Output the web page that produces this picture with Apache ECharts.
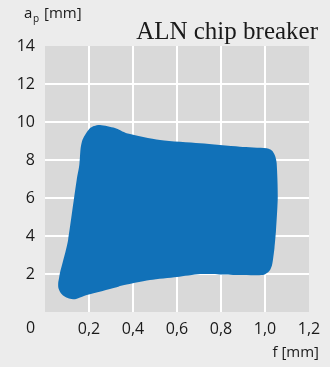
<!DOCTYPE html>
<html>
<head>
<meta charset="utf-8">
<script src="https://cdn.jsdelivr.net/npm/echarts@6/dist/echarts.min.js"></script>
<style>
html,body{margin:0;padding:0;background:#ececec;}
#c{width:330px;height:367px;}
</style>
</head>
<body>
<div id="c"></div>
<script>
// Outline of the application area (f [mm], ap [mm]), clockwise from the top
var outlineF = [0.223, 0.25, 0.318, 0.371, 0.523, 0.705, 0.886, 1.008, 1.025, 1.036, 1.046, 1.053, 1.058, 1.05, 1.043, 1.038, 1.032, 1.023, 1.009, 0.991, 0.886, 0.80, 0.705, 0.60, 0.477, 0.341, 0.326, 0.19, 0.159, 0.136, 0.109, 0.086, 0.07, 0.061, 0.06, 0.064, 0.068, 0.095, 0.105, 0.144, 0.156, 0.162, 0.17, 0.182, 0.205];
var outlineAp = [9.79, 9.84, 9.68, 9.41, 9.05, 8.88, 8.70, 8.62, 8.55, 8.44, 8.21, 7.84, 6.07, 4.32, 3.37, 2.91, 2.47, 2.21, 2.05, 1.95, 1.95, 1.98, 2.0, 1.84, 1.68, 1.37, 1.30, 0.89, 0.76, 0.67, 0.71, 0.84, 1.03, 1.26, 1.53, 1.79, 2.05, 3.26, 3.79, 6.95, 7.74, 8.63, 9.05, 9.32, 9.68];
var xTicks = [0, 0.2, 0.4, 0.6, 0.8, 1.0, 1.2];
var yTicks = [0, 2, 4, 6, 8, 10, 12, 14];

var chart = echarts.init(document.getElementById('c'), null, {renderer: 'canvas'});
var font = '"Open Sans", "Noto Sans", sans-serif';
var pts = outlineF.map(function (f, i) { return [f, outlineAp[i]]; });

chart.setOption({
  backgroundColor: '#ececec',
  animation: false,
  grid: {left: 45, right: 21, top: 46, bottom: 55, show: true, backgroundColor: '#d9d9d9', borderWidth: 0},
  xAxis: {
    type: 'value', min: xTicks[0], max: xTicks[xTicks.length - 1], interval: 0.2,
    axisLine: {show: false}, axisTick: {show: false},
    axisLabel: {
      margin: 9, color: '#1a1a1a', fontSize: 16, fontFamily: font,
      formatter: function (v) { return v === 0 ? '' : v.toFixed(1).replace('.', ','); }
    },
    splitLine: {show: true, showMinLine: false, showMaxLine: false, lineStyle: {color: '#ffffff', width: 2}}
  },
  yAxis: {
    type: 'value', min: yTicks[0], max: yTicks[yTicks.length - 1], interval: 2,
    axisLine: {show: false}, axisTick: {show: false},
    axisLabel: {
      margin: 10, color: '#1a1a1a', fontSize: 16, fontFamily: font,
      formatter: function (v) { return v === 0 ? '' : String(v); }
    },
    splitLine: {show: true, showMinLine: false, showMaxLine: false, lineStyle: {color: '#ffffff', width: 2}}
  },
  series: [{
    type: 'custom',
    coordinateSystem: 'cartesian2d',
    data: [[outlineF[0], outlineAp[0]]],
    renderItem: function (params, api) {
      var points = pts.map(function (p) { return api.coord(p); });
      return {
        type: 'polygon',
        shape: {points: points, smooth: 0.25},
        style: {fill: '#1171b8', stroke: null}
      };
    },
    silent: true
  }],
  graphic: [
    {type: 'text', left: 26, top: 320, style: {text: '0', font: '16px ' + font, fill: '#1a1a1a'}},
    {type: 'text', right: 12, top: 20, style: {text: 'ALN chip breaker', font: '25px "Liberation Serif", serif', fill: '#1a1a1a'}},
    {type: 'text', left: 24, top: 6, style: {text: 'a', font: '15px ' + font, fill: '#1a1a1a'}},
    {type: 'text', left: 33, top: 14, style: {text: 'p', font: '10px ' + font, fill: '#1a1a1a'}},
    {type: 'text', left: 44, top: 6, style: {text: '[mm]', font: '15px ' + font, fill: '#1a1a1a'}},
    {type: 'text', right: 11, top: 345, style: {text: 'f [mm]', font: '15px ' + font, fill: '#1a1a1a'}}
  ]
});
</script>
</body>
</html>
